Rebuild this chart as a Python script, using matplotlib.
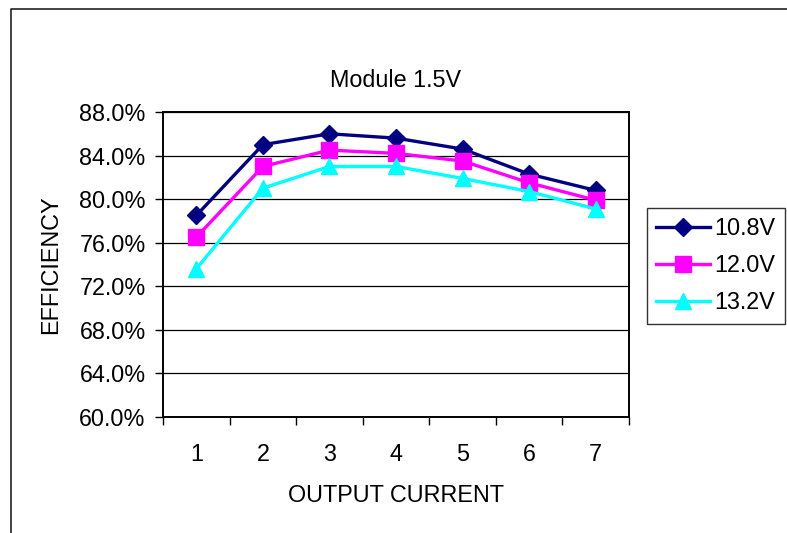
import matplotlib.pyplot as plt
from matplotlib.lines import Line2D
from matplotlib.ticker import FixedLocator, PercentFormatter


current = [1, 2, 3, 4, 5, 6, 7]
eff_108 = [78.5, 85.0, 86.0, 85.6, 84.6, 82.3, 80.8]
eff_120 = [76.5, 83.0, 84.5, 84.2, 83.5, 81.5, 79.9]
eff_132 = [73.6, 81.0, 83.0, 83.0, 81.9, 80.7, 79.1]
labels = ["10.8V", "12.0V", "13.2V"]

plt.rcParams['font.family'] = ['Liberation Sans', 'DejaVu Sans']

fig = plt.figure(figsize=(7.87, 5.33), dpi=100)
ax = fig.add_axes([163 / 787, 1 - 417 / 533, 466 / 787, 305 / 533])

fs = 16.8
ax.plot(current, eff_108, color='#000080', lw=2.4, marker='D', ms=9.5, label=labels[0])
ax.plot(current, eff_120, color='#ff00ff', lw=2.4, marker='s', ms=11, label=labels[1])
ax.plot(current, eff_132, color='#00ffff', lw=2.4, marker='^', ms=12, label=labels[2])

ax.set_xlim(0.5, 7.5)
ax.set_ylim(60, 88)
ax.set_yticks(range(60, 89, 4))
ax.yaxis.set_major_formatter(PercentFormatter(decimals=1))
ax.set_xticks(current)
ax.xaxis.set_minor_locator(FixedLocator([0.5 + i for i in range(8)]))
ax.tick_params(axis='x', which='major', length=0, pad=19, labelsize=fs)
ax.tick_params(axis='x', which='minor', length=5.5, width=1, direction='out')
ax.tick_params(axis='y', length=5.5, width=1, pad=7, labelsize=fs)
ax.grid(axis='y', color='black', lw=0.9)
ax.set_axisbelow(True)
for s in ax.spines.values():
    s.set_linewidth(1.4)

ax.set_title("Module 1.5V", fontsize=fs, pad=18)
ax.set_xlabel("OUTPUT CURRENT", fontsize=fs, labelpad=13)
ax.set_ylabel("EFFICIENCY", fontsize=fs, labelpad=12)

leg = ax.legend(loc='upper left', bbox_to_anchor=(647 / 787, 1 - 208 / 533),
                bbox_transform=fig.transFigure, fontsize=fs, frameon=True,
                fancybox=False, edgecolor='black', handlelength=2.3,
                handletextpad=0.2, borderpad=0.4, labelspacing=0.6,
                borderaxespad=0)
leg.get_frame().set_linewidth(1.0)

# outer chart border (only left and top visible)
fig.add_artist(Line2D([10.5 / 787, 10.5 / 787, 1], [0, 1 - 9 / 533, 1 - 9 / 533],
                      color='#222222', lw=1.2, transform=fig.transFigure))

fig.savefig("out.png", dpi=100)
